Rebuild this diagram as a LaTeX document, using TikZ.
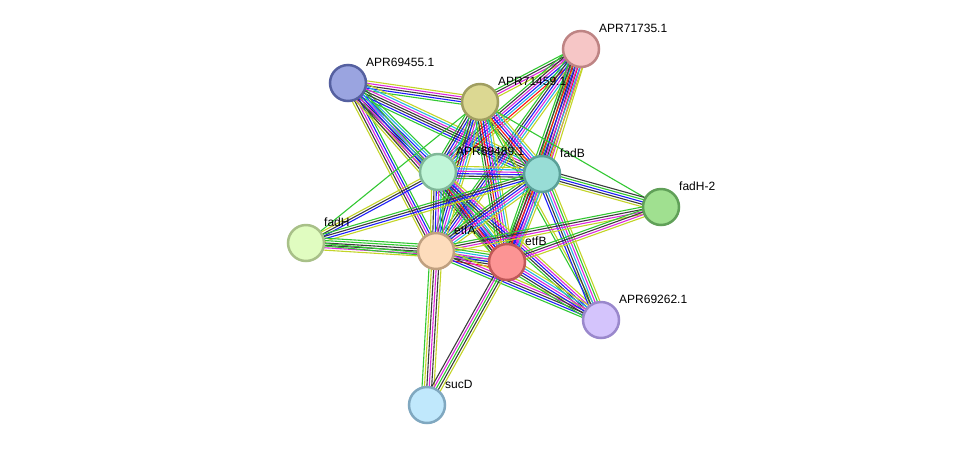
\documentclass[tikz,border=0pt]{standalone}
\usepackage{fontspec}
\setmainfont{Liberation Sans}
\usetikzlibrary{calc}
\pgfdeclarelayer{background}
\pgfsetlayers{background,main}

%%% evidence colours of the links
\definecolor{sg}{RGB}{50,200,50}
\definecolor{sr}{RGB}{255,20,20}
\definecolor{sb}{RGB}{30,30,250}
\definecolor{sk}{RGB}{60,60,60}
\definecolor{sm}{RGB}{220,40,220}
\definecolor{sc}{RGB}{40,180,230}
\definecolor{sy}{RGB}{195,212,40}
%%% node fill and border colours
\definecolor{f735}{HTML}{F6C6C6}\definecolor{d735}{HTML}{BE8484}
\definecolor{f455}{HTML}{9AA4E0}\definecolor{d455}{HTML}{5560A0}
\definecolor{f459}{HTML}{DCD892}\definecolor{d459}{HTML}{A09E60}
\definecolor{f489}{HTML}{C0F6D8}\definecolor{d489}{HTML}{80B898}
\definecolor{ffadB}{HTML}{98DDD6}\definecolor{dfadB}{HTML}{5AA098}
\definecolor{ffadHb}{HTML}{A0E090}\definecolor{dfadHb}{HTML}{60A058}
\definecolor{ffadH}{HTML}{E0FCC0}\definecolor{dfadH}{HTML}{A8C088}
\definecolor{fetfA}{HTML}{FDDCBC}\definecolor{detfA}{HTML}{C0A080}
\definecolor{fetfB}{HTML}{FC9494}\definecolor{detfB}{HTML}{C05858}
\definecolor{f262}{HTML}{D4C4FC}\definecolor{d262}{HTML}{9A88CC}
\definecolor{fsucD}{HTML}{C0E8FC}\definecolor{dsucD}{HTML}{80A8C0}

\tikzset{
  prot/.style={circle, minimum size=36pt, inner sep=0pt, line width=2.5pt},
  lbl/.style={anchor=base west, inner sep=0pt, font=\fontsize{12}{14}\selectfont},
  strand/.style={line width=1.1pt}
}

%%% one link = a bundle of parallel coloured strands
\newcommand\plink[3]{%
  \foreach \sc [count=\si] in {#3} {\xdef\nstr{\si}}%
  \foreach \sc [count=\si] in {#3} {%
    \pgfmathsetmacro\soff{(\si-(\nstr+1)/2)*2.4}%
    \draw[strand,\sc] ($(#1)!\soff pt!90:(#2)$) -- ($(#2)!\soff pt!-90:(#1)$);
  }}

\begin{document}
\begin{tikzpicture}[x=1pt,y=-1pt]
\useasboundingbox (0,0) rectangle (975,451);
%%% the proteins
\node[prot, fill=f735, draw=d735] (a735) at (581,49) {};
\node[prot, fill=f455, draw=d455] (a455) at (348,83) {};
\node[prot, fill=f459, draw=d459] (a459) at (480,102) {};
\node[prot, fill=f489, draw=d489] (a489) at (438,172) {};
\node[prot, fill=ffadB, draw=dfadB] (fadB) at (542,174) {};
\node[prot, fill=ffadHb, draw=dfadHb] (fadH2) at (661,207) {};
\node[prot, fill=ffadH, draw=dfadH] (fadH) at (306,243) {};
\node[prot, fill=fetfA, draw=detfA] (etfA) at (436,251) {};
\node[prot, fill=fetfB, draw=detfB] (etfB) at (507,262) {};
\node[prot, fill=f262, draw=d262] (a262) at (601,320) {};
\node[prot, fill=fsucD, draw=dsucD] (sucD) at (427,405) {};
%%% the labels
\node[lbl] (a735-l) at ($(a735)+(18,-17)$) {APR71735.1};
\node[lbl] (a455-l) at ($(a455)+(18,-17)$) {APR69455.1};
\node[lbl] (a459-l) at ($(a459)+(18,-17)$) {APR71459.1};
\node[lbl] (a489-l) at ($(a489)+(18,-17)$) {APR69489.1};
\node[lbl] (fadB-l) at ($(fadB)+(18,-17)$) {fadB};
\node[lbl] (fadH2-l) at ($(fadH2)+(18,-17)$) {fadH-2};
\node[lbl] (fadH-l) at ($(fadH)+(18,-17)$) {fadH};
\node[lbl] (etfA-l) at ($(etfA)+(18,-17)$) {etfA};
\node[lbl] (etfB-l) at ($(etfB)+(18,-17)$) {etfB};
\node[lbl] (a262-l) at ($(a262)+(18,-17)$) {APR69262.1};
\node[lbl] (sucD-l) at ($(sucD)+(18,-17)$) {sucD};

%%% the links
\begin{pgfonlayer}{background}
\plink{a455}{a459}{sg,sb,sk,sm,sy}
\plink{a455}{a489}{sy,sk,sk,sm,sb,sc,sg}
\plink{a455}{fadB}{sg,sb,sk,sk,sm,sc,sy}
\plink{a455}{etfA}{sy,sk,sm,sb,sg}
\plink{a455}{etfB}{sy,sk,sm,sb,sc,sg}
\plink{a735}{a459}{sg,sk,sm,sy}
\plink{a735}{a489}{sg,sk,sm,sb,sc,sr,sy}
\plink{a735}{fadB}{sg,sg,sk,sk,sr,sm,sy}
\plink{a735}{etfA}{sg,sk,sb,sm,sc,sy}
\plink{a735}{etfB}{sg,sk,sr,sb,sm,sc,sy}
\plink{a459}{a489}{sg,sk,sb,sm,sc,sy}
\plink{a459}{fadB}{sg,sk,sr,sb,sm,sc,sy}
\plink{a459}{etfA}{sg,sk,sb,sm,sc,sy}
\plink{a459}{etfB}{sg,sk,sr,sb,sm,sc,sy}
\plink{a459}{fadH2}{sg}
\plink{a459}{fadH}{sg}
\plink{a459}{a262}{sg,sy}
\plink{a489}{fadB}{sg,sk,sb,sm,sc,sy}
\plink{a489}{etfA}{sy,sk,sb,sm,sc,sg}
\plink{a489}{etfB}{sg,sk,sr,sb,sm,sc,sy}
\plink{a489}{a262}{sg,sk,sb,sm,sy}
\plink{a489}{fadH}{sy,sk,sb}
\plink{fadB}{fadH2}{sy,sk,sb,sg,sk}
\plink{fadB}{etfA}{sg,sk,sb,sm,sc,sy}
\plink{fadB}{etfB}{sg,sk,sr,sb,sm,sc,sy}
\plink{fadB}{a262}{sb,sk,sc,sm,sg,sy}
\plink{fadB}{fadH}{sg,sk,sb,sy}
\plink{fadH2}{etfA}{sg,sk,sm,sy}
\plink{fadH2}{etfB}{sg,sk,sm,sy}
\plink{fadH}{etfA}{sy,sm,sk,sk,sg,sg}
\plink{fadH}{etfB}{sg,sg}
\plink{etfA}{etfB}{sr,sk,sb,sm,sc,sg,sy}
\plink{etfA}{a262}{sg,sb,sk,sm,sy}
\plink{etfB}{a262}{sg,sk,sb,sm,sc,sy}
\plink{etfA}{sucD}{sg,sy,sk,sm,sk,sy}
\plink{etfB}{sucD}{sk,sm,sg,sk,sy}
\end{pgfonlayer}
\end{tikzpicture}
\end{document}
